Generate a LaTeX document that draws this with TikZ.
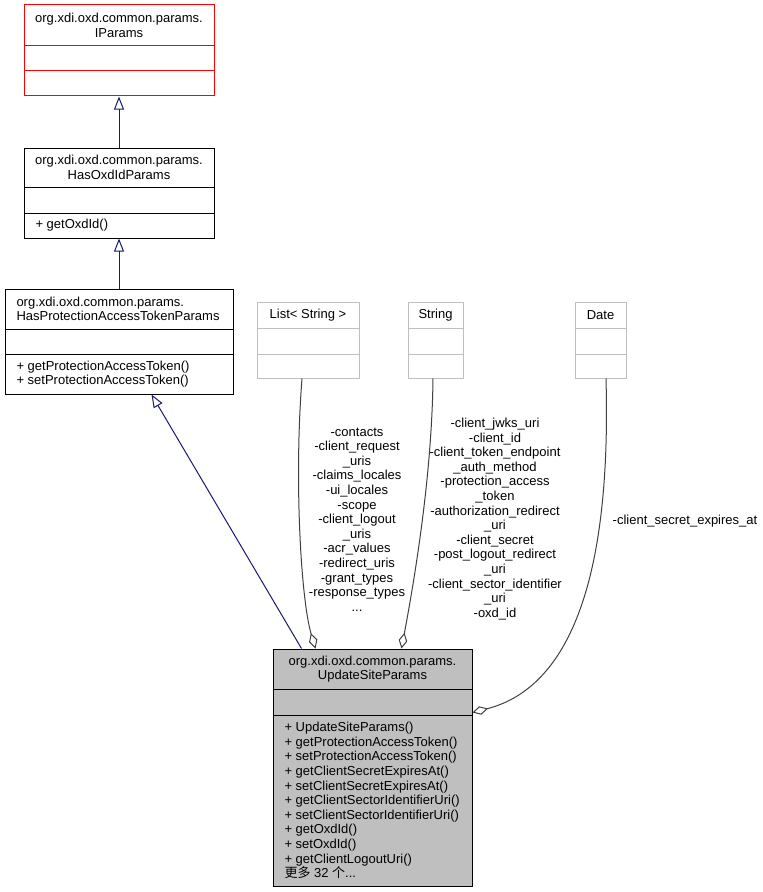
\documentclass[tikz,border=0pt]{standalone}
\usepackage{fontspec}
\setmainfont{Liberation Sans}
\newfontfamily\cjk{Noto Sans CJK SC}
\usetikzlibrary{arrows.meta,calc,fit}
\definecolor{inhblue}{HTML}{191970}
\definecolor{agggray}{HTML}{404040}
\definecolor{typegray}{HTML}{BFBFBF}
\begin{document}
\begin{tikzpicture}
        [x=0.75pt, y=-0.75pt, line width=0.75pt,
        font=\fontsize{9.75}{10.95}\selectfont,
        cls/.style={draw=black, inner sep=0pt},
        iface/.style={draw=red, inner sep=0pt},
        typebox/.style={draw=typegray, inner sep=0pt},
        focus/.style={draw=black, fill=typegray, inner sep=0pt},
        txt/.style={inner sep=0pt, align=center},
        mbr/.style={inner sep=0pt, align=left, anchor=west},
        inh/.style={draw=inhblue, -{Triangle[open,length=9.75pt,width=7.5pt]}},
        agg/.style={draw=agggray, -{Diamond[open,length=12pt,width=6.5pt]}}]
        \useasboundingbox (0,0) rectangle (763,892);
        % base interfaces
        \node (iparams) [iface, fit={(24,5) (214,96)}] {};
        \draw[red] (24,46) -- (214,46) (24,71) -- (214,71);
        \node (iparamsname) at (119,25.5) [txt] {org.xdi.oxd.common.params.\\IParams};
        \node (hasoxd) [cls, fit={(24,148) (214,238)}] {};
        \draw (24,187) -- (214,187) (24,213) -- (214,213);
        \node (hasoxdname) at (119,167.5) [txt] {org.xdi.oxd.common.params.\\HasOxdIdParams};
        \node (hasoxdops) at (35,225.5) [mbr] {+ getOxdId()};
        \node (hpat) [cls, fit={(5,289) (233,394)}] {};
        \draw (5,329) -- (233,329) (5,354) -- (233,354);
        \node (hpatname) at (16,309) [mbr] {org.xdi.oxd.common.params.\\HasProtectionAccessTokenParams};
        \node (hpatops) at (16,374) [mbr] {+ getProtectionAccessToken()\\+ setProtectionAccessToken()};
        % member types
        \node (list) [typebox, fit={(257,302) (359,378)}] {};
        \draw[typegray] (257,328) -- (359,328) (257,354) -- (359,354);
        \node (listname) at (308,315) [txt] {List< String >};
        \node (string) [typebox, fit={(408,302) (463,378)}] {};
        \draw[typegray] (408,328) -- (463,328) (408,354) -- (463,354);
        \node (stringname) at (435.5,315) [txt] {String};
        \node (date) [typebox, fit={(575,302) (626,378)}] {};
        \draw[typegray] (575,328) -- (626,328) (575,354) -- (626,354);
        \node (datename) at (600.5,315) [txt] {Date};
        % the class itself
        \node (upd) [focus, fit={(273,649) (472,886)}] {};
        \draw (273,689) -- (472,689) (273,715) -- (472,715);
        \node (updname) at (372.5,669) [txt] {org.xdi.oxd.common.params.\\UpdateSiteParams};
        \node (updops) at (284,800.5) [mbr] {+ UpdateSiteParams()\\+ getProtectionAccessToken()\\+ setProtectionAccessToken()\\+ getClientSecretExpiresAt()\\+ setClientSecretExpiresAt()\\+ getClientSectorIdentifierUri()\\+ setClientSectorIdentifierUri()\\+ getOxdId()\\+ setOxdId()\\+ getClientLogoutUri()\\{\cjk 更多} 32 {\cjk 个}...};
        % edges
        \draw[inh] (hasoxd.north) -- (iparams.south);
        \draw[inh] (hpat.north) -- (hasoxd.south);
        \draw[inh] ($(upd.north west)+(29,0)$) -- ($(hpat.south west)+(147,0)$);
        \draw[agg] ($(list.south)+(-6,0)$) .. controls (294,480) and (301,600) .. ($(upd.north west)+(43,0)$);
        \draw[agg] ($(string.south)+(-2.5,0)$) .. controls (432,460) and (420,550) .. ($(upd.north west)+(129,0)$);
        \draw[agg] ($(date.south)+(5.5,0)$) .. controls (612,600) and (560,690) .. ($(upd.north east)+(0,64)$);
        \node (listlbl) at (357,519.5) [txt] {-contacts\\-client\_request\\\_uris\\-claims\_locales\\-ui\_locales\\-scope\\-client\_logout\\\_uris\\-acr\_values\\-redirect\_uris\\-grant\_types\\-response\_types\\...};
        \node (stringlbl) at (495,519) [txt] {-client\_jwks\_uri\\-client\_id\\-client\_token\_endpoint\\\_auth\_method\\-protection\_access\\\_token\\-authorization\_redirect\\\_uri\\-client\_secret\\-post\_logout\_redirect\\\_uri\\-client\_sector\_identifier\\\_uri\\-oxd\_id};
        \node (datelbl) at (685,521) [txt] {-client\_secret\_expires\_at};
      \end{tikzpicture}
\end{document}
